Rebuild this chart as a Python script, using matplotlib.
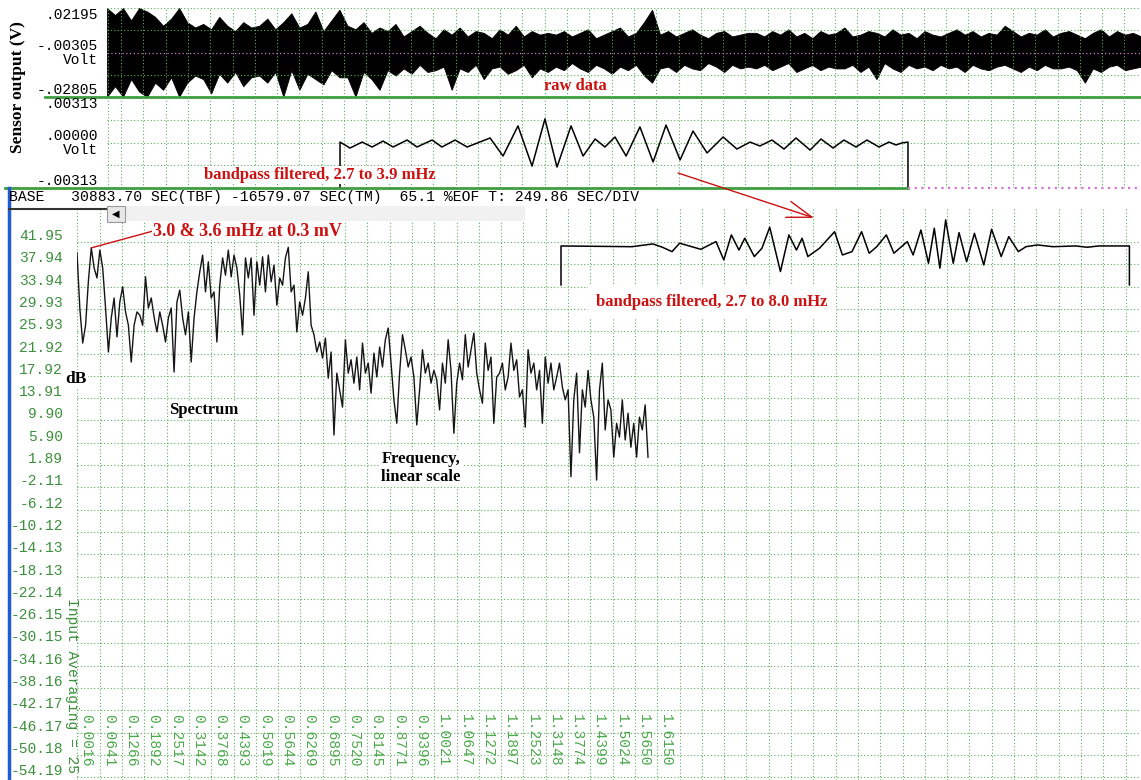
import numpy as np
import matplotlib.pyplot as plt
import matplotlib.transforms as mtransforms
from matplotlib.patches import Rectangle, ConnectionPatch
from matplotlib.lines import Line2D

# ---------------- data ----------------
# raw sensor output, upper / lower excursion per sample, in mV
raw_hi_mv = [21.9, 18, 21.9, 15, 21.9, 20, 17,
             12, 16, 21.9, 14, 11,
             13, 10, 17, 12, 9, 14, 11,
             12, 16, 10, 14, 19, 11, 13, 20, 9, 15, 21, 12, 10, 14, 8, 11, 9, 13,
             6, 9, 12, 8, 5, 10, 7, 11, 6, 9, 8, 5, 10, 7, 12, 6, 9, 7, 8,
             7, 9, 6, 8, 10, 5, 7, 9, 11, 6, 8, 14, 21, 7, 9, 6, 8, 10, 7, 5, 8, 9, 6, 7, 8,
             8, 6, 9, 7, 10, 6, 8, 5, 9, 7, 8, 11, 6, 7, 9, 8, 6, 10, 7, 8, 5, 9, 7, 6, 8,
             10, 7, 9, 6, 8, 7, 12, 9, 6, 8, 7, 10, 6, 8, 9, 7, 5, 8, 10, 6, 9, 7, 8, 6]
raw_lo_mv = [-27.9, -22, -27.9, -18, -25, -27.9, -20,
             -24, -17, -27.9, -20, -16,
             -18, -26, -15, -20, -14, -22, -17,
             -16, -20, -14, -27.9, -13, -24, -15, -18, -21, -13, -17, -17, -27.9, -14, -18, -24, -13, -16,
             -12, -15, -10, -14, -13, -11, -24, -12, -14, -10, -18, -12, -11, -15, -13, -10, -17, -12, -14,
             -11, -13, -9, -12, -14, -10, -12, -15, -11, -13, -10, -16, -20, -12, -11, -14, -10, -12, -13, -9,
             -11, -14, -10, -12, -11,
             -12, -10, -13, -11, -9, -14, -12, -10, -13, -11, -12, -12, -10, -14, -11, -18, -9, -12, -14, -10,
             -12, -11, -13, -10, -12, -11, -14, -10, -12, -13, -11, -10, -12, -14, -11, -13, -10, -12, -12, -11,
             -13, -20, -12, -14, -11, -10, -13, -12, -11]

# bandpass 2.7-3.9 mHz: time (screen divisions) and value (mV) at the turning points
bp1_t = [9.82, 9.82, 10.27, 10.81, 11.26, 11.75, 12.20, 12.83, 13.27, 13.95, 14.39, 14.98, 15.52,
         16.55, 17.13, 17.80, 18.43, 19.01, 19.55, 20.18, 20.72, 21.26, 21.70, 22.15, 22.65, 23.27,
         23.86, 24.44, 25.07, 25.65, 26.28, 27.00, 27.62, 28.21, 28.65, 29.19, 29.73, 30.27, 30.90,
         31.39, 31.93, 32.42, 32.96, 33.45, 33.99, 34.44, 34.75, 35.02, 35.29, 35.29]
bp1_mv = [-3.13, 0.03, -0.38, 0.03, -0.31, 0.10, -0.31, 0.17, -0.31, 0.17, -0.31, 0.17, -0.31,
          0.31, -0.93, 1.14, -1.62, 1.62, -1.69, 1.14, -0.93, 0.24, -0.31, 0.38, -0.93, 1.07,
          -1.34, 1.20, -1.20, 0.79, -0.72, 0.38, -0.45, 0.03, -0.24, 0.17, -0.45, 0.31, -0.52,
          0.24, -0.38, 0.17, -0.31, 0.17, -0.31, 0.03, -0.17, -0.03, 0.03, -3.13]

# bandpass 2.7-8.0 mHz
bp2_t = [19.73, 19.73, 22.91, 23.85, 24.28, 24.71, 25.05, 25.48, 26.00, 26.68, 27.03, 27.37,
         27.71, 27.97, 28.40, 28.74, 29.09, 29.57, 29.95, 30.29, 30.54, 30.80, 31.32, 32.00,
         32.35, 32.78, 33.21, 33.55, 33.89, 34.32, 34.66, 35.26, 35.52, 35.87, 36.21, 36.47,
         36.72, 36.98, 37.32, 37.58, 37.92, 38.27, 38.69, 39.04, 39.47, 39.81, 40.24, 40.58,
         41.10, 41.79, 42.82, 43.33, 43.84, 45.22, 45.22]
bp2_mv = [-2.68, 0, -0.05, 0.14, -0.09, -0.39, 0.19, 0, -0.23, 0.30, -0.96, 0.76,
          -0.28, 0.53, -0.73, -0.16, 1.29, -1.76, 0.76, -0.28, 0.53, -0.73, -0.16, 0.98,
          -0.62, -0.39, 0.98, -0.50, -0.05, 0.76, -0.50, 0.30, -0.62, 1.10, -1.19, 1.22,
          -1.53, 1.79, -1.19, 0.92, -1.08, 0.87, -1.31, 1.15, -0.73, 0.64, -0.39, -0.05,
          0.07, -0.05, 0, -0.09, 0, 0, -2.68]

# spectrum in dB, evenly spaced bins
spec_db = [40.0, 30.0, 23.8, 27.0, 35.0, 40.9, 37.3, 35.5, 40.5, 37.3,
           30.1, 22.2, 28.3, 31.9, 24.9, 31.2, 33.9, 29.4, 27.0, 20.4,
           27.0, 29.4, 28.8, 27.0, 35.7, 30.1, 31.9, 28.5, 25.8, 29.4,
           27.0, 24.0, 28.3, 30.1, 18.6, 31.2, 33.3, 28.3, 25.3, 29.4,
           20.4, 28.3, 33.0, 36.6, 39.6, 33.0, 38.4, 31.9, 33.0, 24.0,
           34.2, 39.1, 36.0, 40.5, 35.7, 39.6, 37.3, 32.4, 25.3, 39.1,
           35.5, 39.1, 28.8, 38.4, 34.2, 39.3, 33.0, 39.6, 34.8, 37.8,
           30.6, 35.5, 34.2, 39.1, 41.0, 33.0, 34.2, 25.8, 31.2, 28.8,
           31.9, 36.6, 27.0, 25.3, 22.2, 24.0, 21.1, 24.7, 17.5, 22.2,
           7.3,
           18.4, 15.4, 12.3, 24.4, 18.4, 20.8, 16.6, 21.3, 15.4, 23.8,
           18.4, 20.2, 14.8, 22.0, 17.7, 23.1, 19.5, 24.4, 26.5, 20.2,
           13.6, 9.4, 18.4, 25.3, 22.6, 19.5, 21.3, 17.7, 9.1, 15.4,
           22.6, 18.4, 20.2, 16.6, 18.9, 17.2, 11.8, 20.2, 16.6, 24.4,
           18.9, 7.6, 16.6, 20.2, 17.2, 25.3, 19.5, 22.6, 25.6, 18.4,
           15.4, 13.0, 23.8, 18.9, 21.3, 9.4, 17.7, 18.4, 20.2, 15.4,
           17.7, 23.8, 18.9, 20.8, 14.1, 15.4, 8.7, 22.6, 18.4, 20.2,
           15.4, 18.9, 9.4, 21.3, 16.6, 20.2, 15.4, 17.7, 20.2, 15.9,
           13.6, 15.4, -0.2, 13.6, 18.4, 4.1, 15.4, 12.3, 18.9, 13.6,
           10.5, -0.8, 15.4, 20.2, 8.2, 13.6, 11.8, 3.3, 9.4, 6.9,
           13.6, 6.4, 11.2, 5.1, 9.4, 3.3, 10.5, 8.2, 12.7, 3.3]

freq_labels = ['0.0016', '0.0641', '0.1266', '0.1892', '0.2517', '0.3142', '0.3768', '0.4393',
               '0.5019', '0.5644', '0.6269', '0.6895', '0.7520', '0.8145', '0.8771', '0.9396',
               '1.0021', '1.0647', '1.1272', '1.1897', '1.2523', '1.3148', '1.3774', '1.4399',
               '1.5024', '1.5650', '1.6150']
db_labels = ['41.95', '37.94', '33.94', '29.93', '25.93', '21.92', '17.92', '13.91', '9.90',
             '5.90', '1.89', '-2.11', '-6.12', '-10.12', '-14.13', '-18.13', '-22.14', '-26.15',
             '-30.15', '-34.16', '-38.16', '-42.17', '-46.17', '-50.18', '-54.19']
raw_labels = ['.02195', '-.00305', 'Volt', '-.02805']
raw_label_v = [0.02195, -0.00305, -0.00305, -0.02805]
bp_labels = ['.00313', '.00000', 'Volt', '-.00313']
bp_label_v = [0.00313, 0.0, 0.0, -0.00313]
label_va = ['top', 'bottom', 'top', 'bottom']
header = 'BASE   30883.70 SEC(TBF) -16579.07 SEC(TM)  65.1 %EOF T: 249.86 SEC/DIV'

# ---------------- scales ----------------
T_LIM = (-0.63, 45.74)          # screen divisions (249.86 s each)
RAW_LIM = (-0.02805, 0.02195)
BP_LIM = (-0.00313, 0.00313)
BP2_LIM = (-3.03, 2.13)
F_LIM = (0.0002, 2.9823)
DB_LIM = (-54.67, 48.24)
SPEC_F = (0.0002, 1.6006)
F0, F_DIV = 0.0016, 0.0625

GRID = '#5cae5c'
SOLID = '#3f9f3f'
GTEXT = '#3c8f3c'
RED = '#cc1111'
PINK = '#cc77cc'
DOT = (0, (1, 2))
mono = dict(family='Liberation Mono', fontsize=10.5)
serif = dict(family='Liberation Serif', fontweight='bold')

W, H = 1141, 780
fig = plt.figure(figsize=(W / 100, H / 100), dpi=100)
fig.patch.set_facecolor('white')


def px_axes(x0, y0, x1, y1, **kw):
    return fig.add_axes([x0 / W, 1 - y1 / H, (x1 - x0) / W, (y1 - y0) / H], **kw)


def bare(ax):
    for s in ax.spines.values():
        s.set_visible(False)
    ax.tick_params(length=0, labelbottom=False, labelleft=False)


# ---------------- spectrum ----------------
ax3 = px_axes(77, 207, 1141, 780)
bare(ax3)
ax3.set_xlim(*F_LIM)
ax3.set_ylim(*DB_LIM)
db_vals = [float(s) for s in db_labels]
ax3.set_xticks(F0 + F_DIV * np.arange(48))
ax3.set_yticks(db_vals)
ax3.set_axisbelow(True)
ax3.grid(True, color=GRID, ls=DOT, lw=0.8)

spec_f = np.linspace(SPEC_F[0], SPEC_F[1], len(spec_db))
ax3.plot(spec_f, spec_db, color='#151515', lw=1.0, zorder=3)

tf = mtransforms.offset_copy(ax3.get_yaxis_transform(), fig=fig, x=-14, y=6, units='dots')
for v, s in zip(db_vals, db_labels):
    ax3.text(0, v, s, transform=tf, ha='right', va='center', color=GTEXT, **mono)

tf = mtransforms.offset_copy(ax3.get_xaxis_transform(), fig=fig, x=2, units='dots')
for k, s in enumerate(freq_labels):
    ax3.text(F0 + F_DIV * k, 0.115, s, transform=tf, rotation=-90, ha='left', va='top',
             color='#4aa84a', **mono)

ax3.text(-0.0045, 0.3176, 'Input Averaging = 25', transform=ax3.transAxes,
         rotation=-90, ha='center', va='top', color=GTEXT, **mono)

wbox = dict(facecolor='white', edgecolor='none', pad=1.0)
ax3.text(-0.0026, 17.35, 'dB', ha='center', va='center', fontsize=12.5, bbox=wbox, zorder=4, **serif)
ax3.text(0.356, 11.8, 'Spectrum', ha='center', va='center', fontsize=12, bbox=wbox, zorder=4, **serif)
ax3.text(0.964, 1.3, 'Frequency,\nlinear scale', ha='center', va='center', fontsize=12,
         linespacing=1.15, bbox=wbox, zorder=4, **serif)
ax3.annotate('3.0 & 3.6 mHz at 0.3 mV', xy=(spec_f[5], spec_db[5]), xytext=(0.212, 43.9),
             ha='left', va='center', color=RED, fontsize=13, zorder=4,
             bbox=dict(facecolor='white', edgecolor='none', pad=0.3),
             arrowprops=dict(arrowstyle='-', color=RED, lw=1, shrinkA=0, shrinkB=0,
                             relpos=(0, 0.5)), **serif)

# ---------------- raw data ----------------
ax1 = px_axes(107, 8, 1141, 97)
bare(ax1)
ax1.set_xlim(*T_LIM)
ax1.set_ylim(*RAW_LIM)
raw_t = np.linspace(T_LIM[0], T_LIM[1], len(raw_hi_mv))
ax1.fill_between(raw_t, np.array(raw_lo_mv) / 1000, np.array(raw_hi_mv) / 1000,
                 facecolor='black', edgecolor='black', lw=0.6)
ax1.set_xticks(np.arange(0, 46))
ax1.set_yticks([0.02195, 0.00945, -0.01555])
ax1.set_axisbelow(False)
ax1.grid(True, color=GRID, ls=DOT, lw=0.8)
ax1.axvline(T_LIM[0] + 0.03, color=GRID, ls=DOT, lw=0.8)
ax1.axhline(-0.00305, color=PINK, ls=DOT, lw=0.9, zorder=3)
ax1.axhline(RAW_LIM[0], xmin=-0.06, xmax=1, color=SOLID, lw=2, clip_on=False)
tf = mtransforms.offset_copy(ax1.get_yaxis_transform(), fig=fig, x=-9, units='dots')
for s, v, va in zip(raw_labels, raw_label_v, label_va):
    ax1.text(0, v, s, transform=tf, ha='right', va=va, color='black', **mono)
ax1.text(20.36, -0.0219, 'raw data', ha='center', va='center', color=RED, fontsize=12, **serif)

# ---------------- bandpass 2.7 - 3.9 mHz ----------------
ax2 = px_axes(107, 97, 1141, 188)
bare(ax2)
ax2.patch.set_alpha(0)
ax2.set_xlim(*T_LIM)
ax2.set_ylim(*BP_LIM)
ax2.set_xticks(np.arange(0, 46))
ax2.set_yticks([0.001565, 0.0, -0.001565])
ax2.set_axisbelow(True)
ax2.grid(True, color=GRID, ls=DOT, lw=0.8)
ax2.axvline(T_LIM[0] + 0.03, color=GRID, ls=DOT, lw=0.8)
ax2.plot(bp1_t, np.array(bp1_mv) / 1000, color='black', lw=1.1)
end_frac = (bp1_t[-1] - T_LIM[0]) / (T_LIM[1] - T_LIM[0])
ax2.axhline(BP_LIM[0], xmin=-0.099, xmax=end_frac, color=SOLID, lw=2, clip_on=False)
ax2.axhline(BP_LIM[0], xmin=end_frac, xmax=1, color=PINK, ls=DOT, lw=1.6, clip_on=False)
tf = mtransforms.offset_copy(ax2.get_yaxis_transform(), fig=fig, x=-9, units='dots')
for s, v, va in zip(bp_labels, bp_label_v, label_va):
    ax2.text(0, v, s, transform=tf, ha='right', va=va, color='black', **mono)
ax2.text(8.92, -0.00224, 'bandpass filtered, 2.7 to 3.9 mHz', ha='center', va='center',
         color=RED, fontsize=12, bbox=dict(facecolor='white', edgecolor='none', pad=1), **serif)

# ---------------- bandpass 2.7 - 8.0 mHz (drawn over the spectrum) ----------------
ax4 = px_axes(107, 215, 1141, 290)
ax4.axis('off')
ax4.patch.set_alpha(0)
ax4.set_xlim(*T_LIM)
ax4.set_ylim(*BP2_LIM)
ax4.plot(bp2_t, bp2_mv, color='black', lw=1.1)
ax4.text(26.5, -3.85, 'bandpass filtered, 2.7 to 8.0 mHz', ha='center', va='center',
         color=RED, fontsize=12, bbox=dict(facecolor='white', edgecolor='none', pad=6), **serif)

fig.add_artist(ConnectionPatch(xyA=(24.98, -0.0021), coordsA=ax2.transData,
                               xyB=(31.08, 1.93), coordsB=ax4.transData,
                               arrowstyle='->,head_length=0.9,head_width=0.3',
                               mutation_scale=20, color=RED, lw=1, shrinkA=0, shrinkB=0,
                               zorder=5))

# ---------------- screen furniture ----------------
fig.text(18 / W, 1 - 87 / H, 'Sensor output (V)', rotation=90, ha='center', va='center',
         fontsize=12.5, **serif)
fig.text(9 / W, 1 - 197 / H, header, ha='left', va='center', color='black',
         family='Liberation Mono', fontsize=10.6)
fig.add_artist(Line2D([8.5 / W, 8.5 / W], [1 - 188 / H, 0], transform=fig.transFigure,
                      color='#1e5bd4', lw=2.5))
fig.add_artist(Line2D([9 / W, 107 / W], [1 - 209 / H, 1 - 209 / H], transform=fig.transFigure,
                      color='#333333', lw=1.5))
fig.add_artist(Rectangle((125 / W, 1 - 221 / H), 400 / W, 15 / H, transform=fig.transFigure,
                         facecolor='#f1f1f1', edgecolor='none', zorder=0.5))
fig.add_artist(Rectangle((107 / W, 1 - 222 / H), 18 / W, 16 / H, transform=fig.transFigure,
                         facecolor='#e8e8e8', edgecolor='#9a9a9a', lw=0.8, zorder=3))
fig.text(116 / W, 1 - 214 / H, '\u25c0', ha='center', va='center', fontsize=7,
         family='DejaVu Sans', zorder=4)

fig.savefig('out.png', dpi=100)
